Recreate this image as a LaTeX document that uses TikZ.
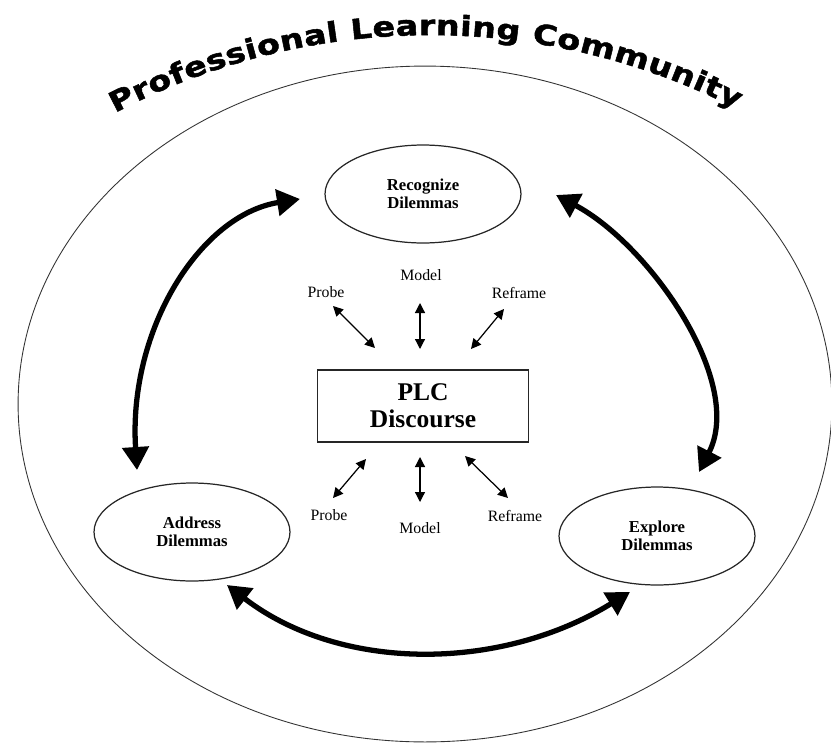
\documentclass[tikz,border=0pt]{standalone}
\usepackage{fontspec}
\setmainfont{Liberation Serif}
\newfontfamily\titlefont{DejaVu Sans}[BoldFeatures={FakeStretch=1.2,FakeBold=1.8}]
\usetikzlibrary{arrows.meta,shapes.geometric,decorations.text,positioning}

\begin{document}
\begin{tikzpicture}[x=0.02cm,y=-0.02cm,
  phase/.style={ellipse, draw=black!85, line width=0.7pt, inner sep=0pt,
                minimum width=3.92cm, minimum height=1.96cm, align=center,
                font=\fontsize{9.5}{10.4}\selectfont\bfseries},
  cyclearrow/.style={line width=3pt,
                {Triangle[length=0.46cm,width=0.52cm]}-{Triangle[length=0.46cm,width=0.52cm]}},
  talkarrow/.style={line width=0.7pt,
                {Triangle[length=0.2cm,width=0.2cm]}-{Triangle[length=0.2cm,width=0.2cm]}},
  movelabel/.style={font=\fontsize{9}{10}\selectfont}]
\useasboundingbox (0,0) rectangle (831,744);

% outer community ring and its title
\node[ellipse, draw=black!80, line width=0.5pt, inner sep=0pt,
      minimum width=16.28cm, minimum height=13.52cm] (community) at (425,404) {};
\path[decorate, decoration={text along path, text align={fit to path},
      text={|\titlefont\bfseries\fontsize{15.8}{18}\selectfont|Professional Learning Community}}]
  (115,113) arc[start angle=-117.8, end angle=-63, radius=675];

% the three phases
\node[phase] (recognize) at (423,194) {Recognize\\Dilemmas};
\node[phase] (address) at (192,532) {Address\\Dilemmas};
\node[phase] (explore) at (657,536) {Explore\\Dilemmas};

\node[draw=black!85, line width=0.7pt, minimum width=4.22cm, minimum height=1.44cm,
      align=center, font=\fontsize{14.5}{15.3}\selectfont\bfseries] (discourse) at (423,406) {PLC\\Discourse};

\node[movelabel] (probeT) at (326,292) {Probe};
\node[movelabel] (modelT) at (421,275) {Model};
\node[movelabel] (reframeT) at (519,293) {Reframe};
\node[movelabel] (probeB) at (329,515) {Probe};
\node[movelabel] (modelB) at (420,528) {Model};
\node[movelabel] (reframeB) at (515,516) {Reframe};

% small two-way arrows round the box
\foreach \n/\ax/\ay/\bx/\by in {pt/333/306/375/348, mt/420/303/420/349, rt/504/309/471/349,
                                pb/366/459/333/498, mb/420/457/420/502, rb/465/456/508/498}{
  \coordinate (\n1) at (\ax,\ay);
  \coordinate (\n2) at (\bx,\by);
  \draw[talkarrow] (\n1) -- (\n2);
}

% the cycle
\coordinate (addrTop) at (137,470);
\coordinate (recLeft) at (300,199);
\coordinate (recRight) at (556,195);
\coordinate (explTop) at (699,472);
\coordinate (addrBot) at (227,585);
\coordinate (explBot) at (630,592);
\draw[cyclearrow] (addrTop) .. controls (128,330) and (200,215) .. (recLeft);
\draw[cyclearrow] (recRight) .. controls (650,245) and (745,382) .. (explTop);
\draw[cyclearrow] (addrBot) .. controls (340,672) and (500,672) .. (explBot);
\end{tikzpicture}
\end{document}
